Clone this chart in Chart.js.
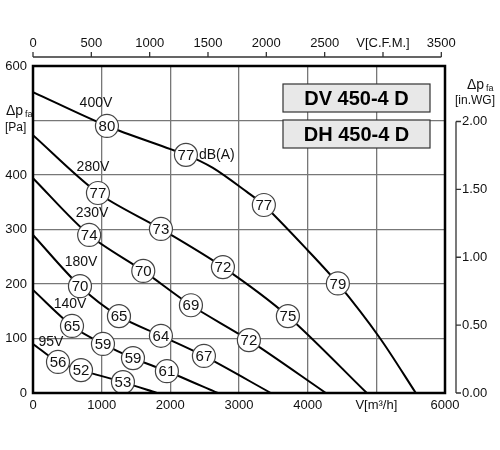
<!DOCTYPE html>
<html>
<head>
<meta charset="utf-8">
<script src="https://cdn.jsdelivr.net/npm/chart.js@4/dist/chart.umd.min.js"></script>
<style>
  html, body { margin: 0; padding: 0; background: #fff; }
  #wrap { width: 500px; height: 450px; }
</style>
</head>
<body>
<div id="wrap"><canvas id="fanChart" width="500" height="450"></canvas></div>
<script>
  "use strict";

  // ---- curve data: flow [m3/h] vs static pressure [Pa] ----
  const flow400 = [0, 1077, 2227, 2620, 3115, 3362, 4000, 4440, 5051, 5575];
  const pa400   = [552, 490, 437, 413, 369, 345, 262, 201, 101, 0];
  const flow280 = [0, 946, 1863, 2766, 3712, 4862];
  const pa280   = [473, 367, 301, 231, 141, 0];
  const flow230 = [0, 818, 1606, 2300, 3144, 4265];
  const pa230   = [394, 290, 224, 161, 97, 0];
  const flow180 = [0, 684, 1252, 1863, 2489, 3464];
  const pa180   = [290, 196, 141, 105, 68, 0];
  const flow140 = [0, 568, 1019, 1456, 1950, 2693];
  const pa140   = [189, 123, 90, 64, 40, 0];
  const flow95  = [0, 364, 699, 1310, 1805];
  const pa95    = [90, 57, 42, 20, 0];

  // noise level markers (dB(A))
  const dbFlow = [1077, 2227, 3362, 4440, 946, 1863, 2766, 3712, 818, 1606, 2300, 3144,
                  684, 1252, 1863, 2489, 568, 1019, 1456, 1950, 364, 699, 1310];
  const dbPa   = [490, 437, 345, 201, 367, 301, 231, 141, 290, 224, 161, 97,
                  196, 141, 105, 68, 123, 90, 64, 40, 57, 42, 20];
  const dbVal  = [80, 77, 77, 79, 77, 73, 72, 75, 74, 70, 69, 72,
                  70, 65, 64, 67, 65, 59, 59, 61, 56, 52, 53];

  // voltage labels
  const voltNames = ["400V", "280V", "230V", "180V", "140V", "95V"];
  const voltFlow  = [917, 873, 860, 699, 539, 262];
  const voltPa    = [532, 415, 330, 240, 163, 94];

  // tick labels
  const xTicks   = [0, 1000, 2000, 3000, 4000, 5000, 6000];
  const xLabels  = ["0", "1000", "2000", "3000", "4000", "V[m³/h]", "6000"];
  const yTicks   = [0, 100, 200, 300, 400, 500, 600];
  const yLabels  = ["0", "100", "200", "300", "400", "", "600"];
  const cfmTicks  = [0, 500, 1000, 1500, 2000, 2500, 3000, 3500];
  const cfmLabels = ["0", "500", "1000", "1500", "2000", "2500", "V[C.F.M.]", "3500"];
  const wgTicks   = [0, 0.5, 1.0, 1.5, 2.0];
  const wgLabels  = ["0.00", "0.50", "1.00", "1.50", "2.00"];

  const modelNames = ["DV 450-4 D", "DH 450-4 D"];

  const M3H_PER_CFM = 1.699;
  const PA_PER_INWG = 249.09;
  const FONT = "'Liberation Sans', Arial, sans-serif";

  const toPts = (xs, ys) => xs.map((x, i) => ({ x: x, y: ys[i] }));

  function curve(xs, ys) {
    return {
      type: "line",
      data: toPts(xs, ys),
      borderColor: "#000",
      borderWidth: 2,
      pointRadius: 0,
      tension: 0.3,
      fill: false,
      order: 2,
    };
  }

  // ---- extra drawing: frame, top/right axes, labels, boxes ----
  const decorations = {
    id: "decorations",
    afterDatasetsDraw(chart) {
      const ctx = chart.ctx;
      const xs = chart.scales.x;
      const ys = chart.scales.y;
      const area = chart.chartArea;

      ctx.save();

      // plot frame
      ctx.strokeStyle = "#000";
      ctx.lineWidth = 2.5;
      ctx.strokeRect(area.left, area.top, area.right - area.left, area.bottom - area.top);

      // numbers in circles
      const meta = chart.getDatasetMeta(chart.data.datasets.length - 1);
      ctx.fillStyle = "#111";
      ctx.font = "15px " + FONT;
      ctx.textAlign = "center";
      ctx.textBaseline = "middle";
      meta.data.forEach((pt, i) => {
        ctx.fillText(String(dbVal[i]), pt.x, pt.y + 1);
      });

      // dB(A) after second circle
      ctx.font = "14px " + FONT;
      ctx.textAlign = "left";
      ctx.fillText("dB(A)", meta.data[1].x + 13, meta.data[1].y);

      // voltage labels
      ctx.textAlign = "center";
      voltNames.forEach((name, i) => {
        ctx.fillText(name, xs.getPixelForValue(voltFlow[i]), ys.getPixelForValue(voltPa[i]));
      });

      // top axis in CFM
      const topY = 57;
      ctx.strokeStyle = "#333";
      ctx.lineWidth = 1.3;
      ctx.beginPath();
      ctx.moveTo(xs.getPixelForValue(0), topY);
      ctx.lineTo(xs.getPixelForValue(cfmTicks[cfmTicks.length - 1] * M3H_PER_CFM), topY);
      cfmTicks.forEach((v) => {
        const px = xs.getPixelForValue(v * M3H_PER_CFM);
        ctx.moveTo(px, topY);
        ctx.lineTo(px, topY - 5);
      });
      ctx.stroke();
      ctx.font = "13px " + FONT;
      ctx.textAlign = "center";
      ctx.textBaseline = "middle";
      cfmTicks.forEach((v, i) => {
        ctx.fillText(cfmLabels[i], xs.getPixelForValue(v * M3H_PER_CFM), topY - 14);
      });

      // right axis in in.WG
      const rightX = 456;
      ctx.beginPath();
      ctx.moveTo(rightX, ys.getPixelForValue(0));
      ctx.lineTo(rightX, ys.getPixelForValue(wgTicks[wgTicks.length - 1] * PA_PER_INWG));
      wgTicks.forEach((v) => {
        const py = ys.getPixelForValue(v * PA_PER_INWG);
        ctx.moveTo(rightX, py);
        ctx.lineTo(rightX + 5, py);
      });
      ctx.stroke();
      ctx.textAlign = "left";
      wgTicks.forEach((v, i) => {
        ctx.fillText(wgLabels[i], rightX + 6, ys.getPixelForValue(v * PA_PER_INWG));
      });

      // axis titles
      ctx.font = "14px " + FONT;
      ctx.fillText("Δp", 6, 111);
      ctx.font = "9px " + FONT;
      ctx.fillText("fa", 25, 115);
      ctx.font = "12px " + FONT;
      ctx.fillText("[Pa]", 5, 128);

      ctx.font = "14px " + FONT;
      ctx.fillText("Δp", 467, 85);
      ctx.font = "9px " + FONT;
      ctx.fillText("fa", 486, 89);
      ctx.font = "12px " + FONT;
      ctx.fillText("[in.WG]", 455, 101);

      // model name boxes
      ctx.font = "bold 20px " + FONT;
      ctx.textAlign = "center";
      modelNames.forEach((name, i) => {
        const bx = 283, bw = 147, bh = 28;
        const by = i === 0 ? 84 : 120;
        ctx.fillStyle = "#e8e8e8";
        ctx.fillRect(bx, by, bw, bh);
        ctx.strokeStyle = "#333";
        ctx.lineWidth = 1.2;
        ctx.strokeRect(bx, by, bw, bh);
        ctx.fillStyle = "#000";
        ctx.fillText(name, bx + bw / 2, by + bh / 2 + 1);
      });

      ctx.restore();
    },
  };

  new Chart(document.getElementById("fanChart"), {
    data: {
      datasets: [
        curve(flow400, pa400),
        curve(flow280, pa280),
        curve(flow230, pa230),
        curve(flow180, pa180),
        curve(flow140, pa140),
        curve(flow95, pa95),
        {
          type: "scatter",
          data: toPts(dbFlow, dbPa),
          pointRadius: 11.5,
          pointBackgroundColor: "#fff",
          pointBorderColor: "#444",
          pointBorderWidth: 1.2,
          order: 1,
        },
      ],
    },
    options: {
      responsive: false,
      animation: false,
      layout: { padding: { top: 66, right: 55, left: 0, bottom: 0 } },
      plugins: { legend: { display: false }, tooltip: { enabled: false } },
      scales: {
        x: {
          type: "linear",
          position: "bottom",
          min: 0,
          max: 6000,
          afterFit: (s) => { s.height = 57; },
          afterBuildTicks: (s) => { s.ticks = xTicks.map((v) => ({ value: v })); },
          ticks: {
            padding: 5,
            color: "#111",
            font: { size: 13, family: FONT },
            maxRotation: 0,
            autoSkip: false,
            callback: (v) => xLabels[xTicks.indexOf(v)],
          },
          grid: { color: "#777", lineWidth: 1.3, drawTicks: false },
          border: { display: false },
        },
        y: {
          type: "linear",
          min: 0,
          max: 600,
          afterFit: (s) => { s.width = 33; },
          afterBuildTicks: (s) => { s.ticks = yTicks.map((v) => ({ value: v })); },
          ticks: {
            padding: 6,
            color: "#111",
            font: { size: 13, family: FONT },
            autoSkip: false,
            callback: (v) => yLabels[yTicks.indexOf(v)],
          },
          grid: { color: "#777", lineWidth: 1.3, drawTicks: false },
          border: { display: false },
        },
      },
    },
    plugins: [decorations],
  });
</script>
</body>
</html>
